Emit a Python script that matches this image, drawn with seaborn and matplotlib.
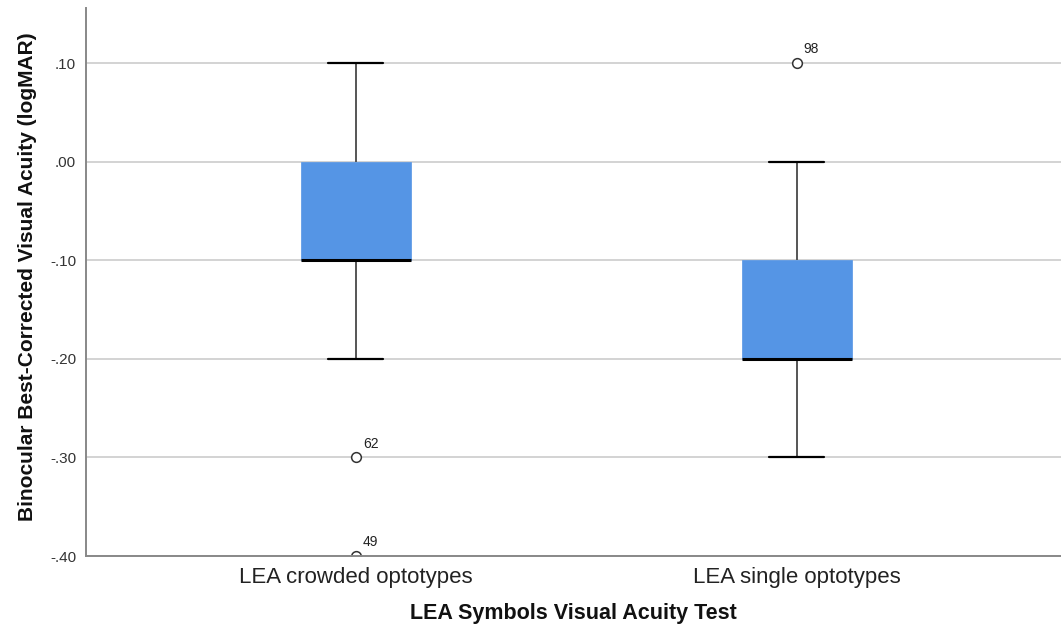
import numpy as np
import pandas as pd
import matplotlib
matplotlib.use("Agg")
import matplotlib.pyplot as plt
import seaborn as sns
from matplotlib.ticker import FuncFormatter

# Acuity levels (logMAR) and how many children scored each level per test
acuity_levels = [-0.4, -0.3, -0.2, -0.1, 0.0, 0.1]
tests = ["LEA crowded optotypes", "LEA single optotypes"]
crowded_counts = [1, 1, 8, 20, 15, 5]
single_counts = [0, 6, 22, 12, 9, 1]

# Outlying cases labelled by case number
outlier_tests = ["LEA crowded optotypes", "LEA crowded optotypes", "LEA single optotypes"]
outlier_values = [-0.3, -0.4, 0.1]
outlier_ids = ["62", "49", "98"]

y_ticks = [-0.4, -0.3, -0.2, -0.1, 0.0, 0.1]

rows = []
for test, counts in zip(tests, [crowded_counts, single_counts]):
    for level, n in zip(acuity_levels, counts):
        rows += [(test, level)] * n
df = pd.DataFrame(rows, columns=["test", "acuity"])

sns.set_style("white")
plt.rcParams["font.family"] = ["Liberation Sans", "DejaVu Sans"]

fig = plt.figure(figsize=(10.61, 6.28), dpi=100)
ax = fig.add_axes([0.081, 0.1146, 0.919, 0.8726])

for y in y_ticks:
    ax.axhline(y, color="#d3d3d3", lw=1.4, zorder=0)

sns.boxplot(
    data=df, x="test", y="acuity", order=tests, ax=ax,
    width=0.25, whis=1.5, color="#5595E5", saturation=1,
    linewidth=1.4,
    boxprops=dict(facecolor="#5595E5", edgecolor="#5595E5", linewidth=0.5),
    medianprops=dict(color="black", linewidth=2.2),
    whiskerprops=dict(color="#555555", linewidth=1.4),
    capprops=dict(color="black", linewidth=1.6),
    flierprops=dict(marker="o", markersize=7, markerfacecolor="white",
                    markeredgecolor="#333333", markeredgewidth=1.1),
)

for test, val, cid in zip(outlier_tests, outlier_values, outlier_ids):
    ax.annotate(cid, xy=(tests.index(test), val), xytext=(5, 5),
                textcoords="offset points", fontsize=10, color="#222222",
                ha="left", va="bottom")

ax.set_xlim(-0.612, 1.599)
ax.set_ylim(-0.4, 0.156)
ax.set_yticks(y_ticks)
ax.yaxis.set_major_formatter(FuncFormatter(lambda v, p: f"{v:.2f}".replace("0.", ".", 1)))
ax.tick_params(axis="y", length=0, pad=7, labelsize=11, labelcolor="#333333")
ax.tick_params(axis="x", length=0, pad=8, labelsize=16, labelcolor="#222222")

for side in ["top", "right"]:
    ax.spines[side].set_visible(False)
for side in ["left", "bottom"]:
    ax.spines[side].set_color("#888888")
    ax.spines[side].set_linewidth(1.4)

ax.set_xlabel("LEA Symbols Visual Acuity Test", fontsize=15.5, fontweight="bold",
              labelpad=11, color="#111111")
ax.set_ylabel("Binocular Best-Corrected Visual Acuity (logMAR)", fontsize=15,
              fontweight="bold", color="#111111")
ax.yaxis.set_label_coords(-0.050, 0.51)

fig.savefig("out.png", dpi=100)
